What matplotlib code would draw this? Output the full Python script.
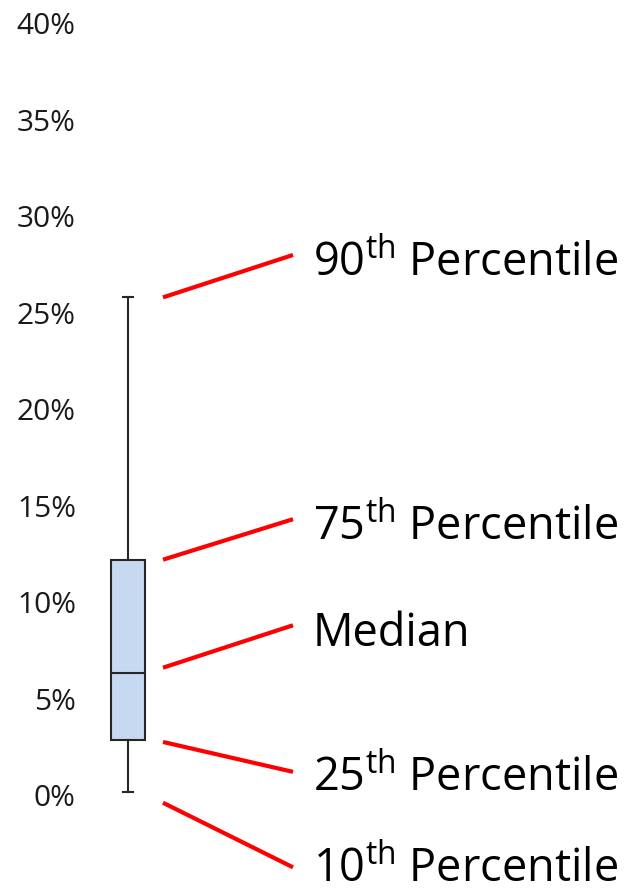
import matplotlib
matplotlib.use("Agg")
import matplotlib.pyplot as plt

plt.rcParams['font.family'] = ['Open Sans', 'DejaVu Sans']
plt.rcParams['mathtext.fontset'] = 'custom'
plt.rcParams['mathtext.rm'] = 'Open Sans'
plt.rcParams['mathtext.it'] = 'Open Sans:italic'

# box plot statistics (percent)
p10 = 0.16
p25 = 2.85
median = 6.32
p75 = 12.18
p90 = 25.8

labels = [r'90$^{\mathrm{th}}$ Percentile', r'75$^{\mathrm{th}}$ Percentile', 'Median',
          r'25$^{\mathrm{th}}$ Percentile', r'10$^{\mathrm{th}}$ Percentile']
# where each red leader line starts (near the stat) and ends (at the label)
line_start = [25.8, 12.2, 6.6, 2.75, -0.4]
line_end = [28.0, 14.3, 8.8, 1.2, -3.75]
text_base = [26.95, 13.25, 7.75, 0.25, -4.5]

yticks = [0, 5, 10, 15, 20, 25, 30, 35, 40]

fig = plt.figure(figsize=(6.3, 8.89), dpi=100)
ax = fig.add_axes([80 / 630, 94 / 889, 550 / 630, 771.5 / 889])

stats = [{'whislo': p10, 'q1': p25, 'med': median, 'q3': p75, 'whishi': p90, 'fliers': []}]
ax.bxp(stats, positions=[0], widths=0.68, patch_artist=True, showfliers=False,
       boxprops=dict(facecolor='#C6D9F1', edgecolor='#262626', linewidth=1.5),
       medianprops=dict(color='#262626', linewidth=1.5),
       whiskerprops=dict(color='#262626', linewidth=1.5),
       capprops=dict(color='#262626', linewidth=1.5), capwidths=0.2)

for lab, y0, y1, yb in zip(labels, line_start, line_end, text_base):
    ax.plot([0.7, 3.3], [y0, y1], color='#FF0000', linewidth=3, clip_on=False,
            solid_capstyle='butt')
    ax.text(3.7, yb, lab, fontsize=32.5, va='baseline', ha='left', color='black')

ax.set_xlim(-0.96, 10.04)
ax.set_ylim(0, 40)
ax.set_yticks(yticks)
ax.set_yticklabels([f'{v}%' for v in yticks], fontsize=21.5, color='#1a1a1a')
ax.set_xticks([])
ax.tick_params(axis='y', length=0, pad=3)
for s in ax.spines.values():
    s.set_visible(False)

fig.savefig('out.png', dpi=100)
